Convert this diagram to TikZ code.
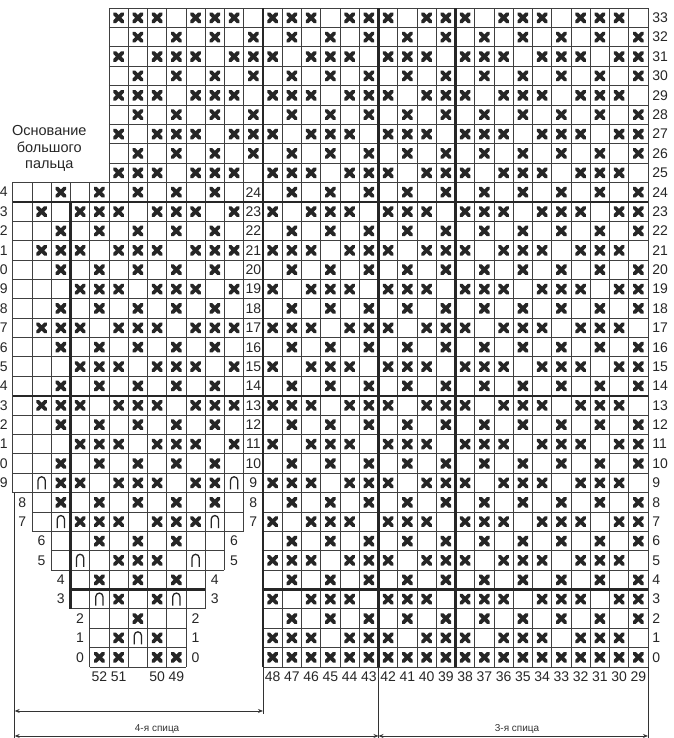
\documentclass[tikz,border=0pt]{standalone}
\usepackage{fontspec}
\setmainfont{Liberation Sans}
\usetikzlibrary{arrows.meta}
\tikzset{
    chart grid/.style={line width=0.9pt, black!75, step=1},
    chart rule/.style={line width=2.3pt, black!85},
    dim line/.style={line width=0.8pt, black!80},
    dim arrow/.style={dim line, {Stealth[length=5pt,width=4pt]}-{Stealth[length=5pt,width=4pt]}},
    row label/.style={font=\fontsize{14}{14}\selectfont, inner sep=0pt, black!85},
    needle label/.style={font=\fontsize{10}{10}\selectfont, inner sep=0pt, black!80},
    pics/cross st/.style={code={
        \draw[line width=3.8pt, line cap=round, black!85]
            (-3.9pt,-3.9pt) -- (3.9pt,3.9pt) (-3.9pt,3.9pt) -- (3.9pt,-3.9pt);
    }},
    pics/loop st/.style={code={
        \draw[line width=1.3pt, black!85]
            (-3.6pt,-6.5pt) -- (-3.6pt,2.5pt) arc[start angle=180, end angle=0, radius=3.6pt] -- (3.6pt,-6.5pt);
    }}
}

\begin{document}
\begin{tikzpicture}[x=19.25pt, y=19.38pt]
    \useasboundingbox (-13.662,-3.664) rectangle (21.351,34.417);
    \clip (-13.662,-3.664) rectangle (21.351,34.417);

    \draw[chart grid] (-8,25) grid (20,34);
    \draw[chart grid] (-13,9) grid (20,25);
    \draw[chart grid] (0,0) grid (20,9);
    \draw[chart grid] (-12,7) grid (-1,9);
    \draw[chart grid] (-11,5) grid (-2,7);
    \draw[chart grid] (-10,3) grid (-3,5);
    \draw[chart grid] (-9,0) grid (-4,3);

    \draw[chart rule] (-13,24) -- (20,24) (-13,14) -- (20,14) (0,4) -- (20,4) (-10,4) -- (-3,4)
        (0,0) -- (0,34) (6,0) -- (6,34) (10,0) -- (10,34) (-10,3) -- (-10,24);

    \foreach \r in {1,...,33} {
        \pgfmathtruncatemacro\first{ifthenelse(\r>24,-8,0)}
        \foreach \i in {\first,...,19} {
            \pgfmathtruncatemacro\on{ifthenelse(mod(\r,2)==0, mod(\i+100,2)==1,
                ifthenelse(mod(\r,4)==1, mod(\i+100,4)!=3, mod(\i+100,4)!=1))}
            \ifnum\on=1 \pic at (\i+.5,\r+.5) {cross st}; \fi
        }
    }
    \foreach \i in {0,...,19} \pic at (\i+.5,.5) {cross st};

    \foreach \r in {10,...,24} {
        \foreach \i in {-11,...,-2} {
            \pgfmathtruncatemacro\on{ifthenelse(mod(\r,2)==0, mod(\i+100,2)==1,
                ifthenelse(mod(\r,4)==1, mod(\i+100,4)!=3, mod(\i+100,4)!=1))}
            \ifnum\on=1 \pic at (\i+.5,\r+.5) {cross st}; \fi
        }
    }
    \foreach \i/\r in {-12/13,-12/17,-12/21,-12/23,
        -11/9,-10/9,-8/9,-7/9,-6/9,-4/9,-3/9,
        -11/8,-9/8,-7/8,-5/8,-3/8, -10/7,-9/7,-8/7,-6/7,-5/7,-4/7,
        -9/6,-7/6,-5/6, -8/5,-7/5,-6/5, -9/4,-7/4,-5/4, -8/3,-6/3,
        -7/2, -8/1,-6/1, -9/0,-8/0,-6/0,-5/0}
        \pic at (\i+.5,\r+.5) {cross st};
    \foreach \i/\r in {-12/9,-2/9,-11/7,-3/7,-10/5,-4/5,-9/3,-5/3,-7/1}
        \pic at (\i+.5,\r+.5) {loop st};

    \foreach \r in {0,...,33}
        \node[row label, anchor=west] (right\r) at (20.22,\r+.5) {\r};
    \foreach \r in {9,...,24} {
        \pgfmathtruncatemacro\d{mod(\r,10)}
        \node[row label] (thumbright\r) at (-0.5,\r+.5) {\r};
        \node[row label, anchor=east] (thumbleft\r) at (-13.25,\r+.5) {\d};
    }
    \foreach \r/\a/\b in {8/-12.5/-0.5,7/-12.5/-0.5,6/-11.5/-1.5,5/-11.5/-1.5,
        4/-10.5/-2.5,3/-10.5/-2.5,2/-9.5/-3.5,1/-9.5/-3.5,0/-9.5/-3.5} {
        \node[row label] (gussetleft\r) at (\a,\r+.5) {\r};
        \node[row label] (gussetright\r) at (\b,\r+.5) {\r};
    }
    \foreach \i [evaluate=\i as \n using int(48-\i)] in {0,...,19}
        \node[row label] (col\n) at (\i+.5,-.52) {\n};
    \foreach \x/\n in {-8.5/52,-7.5/51,-5.5/50,-4.5/49}
        \node[row label] (col\n) at (\x,-.52) {\n};

    \node[align=center, font=\fontsize{14.5}{16.5}\selectfont, black!85] (thumbbase)
        at (-11.1,26.75) {Основание\\большого\\пальца};

    \coordinate (n4top) at (-12.9,9);
    \coordinate (n4bot) at (-12.9,-3.7);
    \coordinate (n4end) at (0,-2.45);
    \coordinate (n3top) at (6,0);
    \coordinate (n3bot) at (6,-3.7);
    \coordinate (n3endtop) at (20,0);
    \coordinate (n3endbot) at (20,-3.7);
    \draw[dim line] (n4top) -- (n4bot) (0,0) -- (n4end) (n3top) -- (n3bot) (n3endtop) -- (n3endbot);
    \draw[dim arrow] (-12.9,-2.27) -- (0,-2.27);
    \draw[dim arrow] (-12.9,-3.56) -- (6,-3.56);
    \draw[dim arrow] (6,-3.56) -- (20,-3.56);
    \node[needle label] (needle4) at (-5.5,-3.22) {4-я спица};
    \node[needle label] (needle3) at (13.2,-3.22) {3-я спица};
\end{tikzpicture}
\end{document}
